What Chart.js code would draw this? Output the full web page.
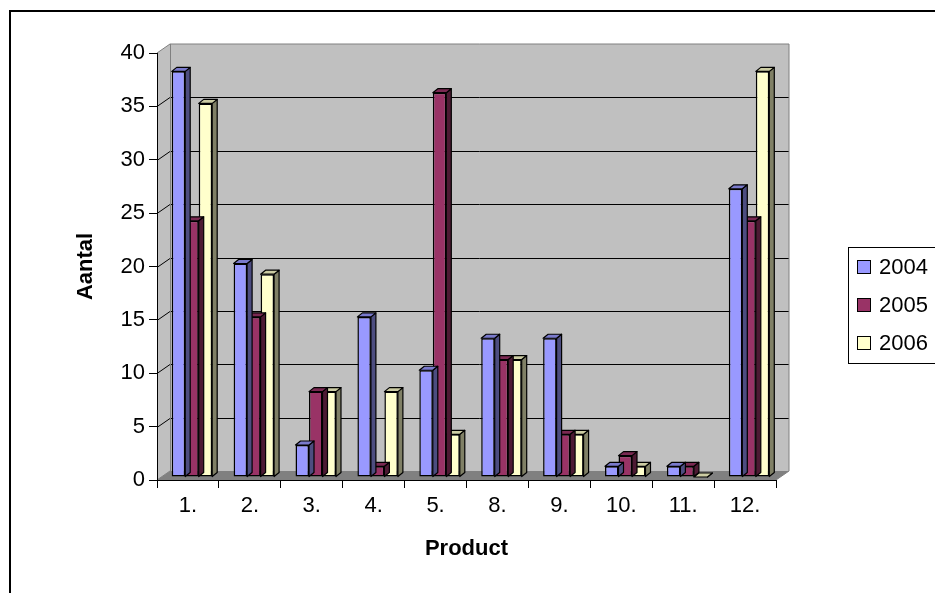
<!DOCTYPE html>
<html>
<head>
<meta charset="utf-8">
<script src="https://cdn.jsdelivr.net/npm/chart.js@4.4.1/dist/chart.umd.min.js"></script>
<style>
  html, body { margin: 0; padding: 0; background: #fff; overflow: hidden; }
  canvas { display: block; }
</style>
</head>
<body>
<canvas id="chart" width="935" height="593" style="width:935px;height:593px"></canvas>
<script>
// Products per year, old Excel-style 3D column chart
const products = ['1.', '2.', '3.', '4.', '5.', '8.', '9.', '10.', '11.', '12.'];
const years = ['2004', '2005', '2006'];
const v2004 = [38, 20, 3, 15, 10, 13, 13, 1, 1, 27];
const v2005 = [24, 15, 8, 1, 36, 11, 4, 2, 1, 24];
const v2006 = [35, 19, 8, 8, 4, 11, 4, 1, 0, 38];
const yTicks = [0, 5, 10, 15, 20, 25, 30, 35, 40];

const FONT = 'Liberation Sans, Arial, sans-serif';
const front = ['#9999FF', '#993366', '#FFFFCC'];
const side  = ['#4D4D80', '#4D1A33', '#808066'];
const top_  = ['#7A7ACC', '#7A2952', '#CCCCA3'];

// 3D depth of the box (wall) and of each bar
const WALL_DX = 13, WALL_DY = -9;
const BAR_DX = 5, BAR_DY = -4;
const SHIFT_X = 4, SHIFT_Y = -3;

const box3d = {
    id: 'box3d',
    beforeDraw: function (chart) {
        const ctx = chart.ctx, a = chart.chartArea, y = chart.scales.y;
        ctx.save();
        ctx.fillStyle = '#fff';
        ctx.fillRect(0, 0, chart.width, chart.height);
        // outer frame
        ctx.strokeStyle = '#000';
        ctx.lineWidth = 2;
        ctx.strokeRect(10, 11, chart.width + 20, chart.height + 20);

        const L = a.left, R = a.right, T = a.top, B = a.bottom;
        // back wall
        ctx.fillStyle = '#C0C0C0';
        ctx.fillRect(L + WALL_DX, T + WALL_DY, R - L, B - T);
        // left side wall
        ctx.beginPath();
        ctx.moveTo(L, T); ctx.lineTo(L + WALL_DX, T + WALL_DY);
        ctx.lineTo(L + WALL_DX, B + WALL_DY); ctx.lineTo(L, B);
        ctx.closePath();
        ctx.fill();
        // floor
        ctx.fillStyle = '#808080';
        ctx.beginPath();
        ctx.moveTo(L, B); ctx.lineTo(L + WALL_DX, B + WALL_DY);
        ctx.lineTo(R + WALL_DX, B + WALL_DY); ctx.lineTo(R, B);
        ctx.closePath();
        ctx.fill();

        // gridlines on side + back wall
        ctx.lineWidth = 1;
        yTicks.forEach(function (v) {
            if (v === 0 || v === 40) return;
            const py = Math.round(y.getPixelForValue(v)) + 0.5;
            ctx.strokeStyle = '#000';
            ctx.beginPath();
            ctx.moveTo(L, py);
            ctx.lineTo(L + WALL_DX, py + WALL_DY);
            ctx.lineTo(R + WALL_DX, py + WALL_DY);
            ctx.stroke();
        });
        // wall edges
        ctx.strokeStyle = '#808080';
        ctx.beginPath();
        ctx.moveTo(L, T); ctx.lineTo(L + WALL_DX, T + WALL_DY);
        ctx.lineTo(R + WALL_DX, T + WALL_DY);
        ctx.lineTo(R + WALL_DX, B + WALL_DY);
        ctx.lineTo(R, B);
        ctx.moveTo(L + WALL_DX + 0.5, T + WALL_DY);
        ctx.lineTo(L + WALL_DX + 0.5, B + WALL_DY);
        ctx.moveTo(L, B); ctx.lineTo(L + WALL_DX, B + WALL_DY);
        ctx.stroke();
        ctx.restore();
    },
    beforeDatasetsDraw: function (chart) {
        chart.ctx.save();
        chart.ctx.translate(SHIFT_X, SHIFT_Y);
    },
    afterDatasetDraw: function (chart, args) {
        const ctx = chart.ctx, i = args.index;
        const meta = chart.getDatasetMeta(i);
        ctx.save();
        ctx.strokeStyle = '#000';
        ctx.lineWidth = 1.2;
        ctx.lineJoin = 'round';
        meta.data.forEach(function (el) {
            const p = el.getProps(['x', 'y', 'base', 'width'], true);
            const l = p.x - p.width / 2, r = p.x + p.width / 2;
            const t = Math.min(p.y, p.base), b = Math.max(p.y, p.base);
            // side face
            ctx.fillStyle = side[i];
            ctx.beginPath();
            ctx.moveTo(r, t); ctx.lineTo(r + BAR_DX, t + BAR_DY);
            ctx.lineTo(r + BAR_DX, b + BAR_DY); ctx.lineTo(r, b);
            ctx.closePath();
            ctx.fill(); ctx.stroke();
            // top face
            ctx.fillStyle = top_[i];
            ctx.beginPath();
            ctx.moveTo(l, t); ctx.lineTo(l + BAR_DX, t + BAR_DY);
            ctx.lineTo(r + BAR_DX, t + BAR_DY); ctx.lineTo(r, t);
            ctx.closePath();
            ctx.fill(); ctx.stroke();
        });
        ctx.restore();
    },
    afterDatasetsDraw: function (chart) {
        chart.ctx.restore();
    },
    afterDraw: function (chart) {
        // legend box on the right
        const ctx = chart.ctx;
        ctx.save();
        ctx.fillStyle = '#fff';
        ctx.fillRect(848, 247, 100, 116);
        ctx.strokeStyle = '#000';
        ctx.lineWidth = 1;
        ctx.strokeRect(848.5, 247.5, 100, 116);
        ctx.font = '22px ' + FONT;
        ctx.textBaseline = 'middle';
        chart.data.datasets.forEach(function (ds, i) {
            const cy = 267 + i * 38;
            ctx.fillStyle = ds.backgroundColor;
            ctx.fillRect(857.5, cy - 6.5, 13, 13);
            ctx.strokeRect(857.5, cy - 6.5, 13, 13);
            ctx.fillStyle = '#000';
            ctx.fillText(ds.label, 879, cy + 1);
        });
        ctx.restore();
    }
};

const datasets = [v2004, v2005, v2006].map(function (vals, i) {
    return {
        label: years[i],
        data: vals,
        backgroundColor: front[i],
        borderColor: '#000',
        borderWidth: 1.5,
        borderSkipped: false,
        categoryPercentage: 0.654,
        barPercentage: 1,
        clip: false
    };
});

new Chart(document.getElementById('chart'), {
    type: 'bar',
    data: { labels: products, datasets: datasets },
    options: {
        responsive: false,
        devicePixelRatio: 1,
        animation: false,
        layout: { padding: { left: 69, top: 53, right: 159, bottom: 27 } },
        plugins: { legend: { display: false }, tooltip: { enabled: false } },
        scales: {
            x: {
                grid: { offset: true, drawOnChartArea: false, tickLength: 8,
                        tickColor: '#000', tickWidth: 1 },
                border: { color: '#000', width: 1 },
                ticks: { font: { family: FONT, size: 22 }, color: '#000',
                         padding: 5, maxRotation: 0, autoSkip: false },
                title: { display: true, text: 'Product', color: '#000',
                         font: { family: FONT, size: 22, weight: 'bold' } },
                afterFit: function (s) { s.height = 86; }
            },
            y: {
                min: 0, max: 40,
                afterBuildTicks: function (s) {
                    s.ticks = yTicks.map(function (v) { return { value: v }; });
                },
                grid: { drawOnChartArea: false, tickLength: 8,
                        tickColor: '#000', tickWidth: 1 },
                border: { color: '#000', width: 1 },
                ticks: { font: { family: FONT, size: 22 }, color: '#000', padding: 4 },
                title: { display: true, text: 'Aantal', color: '#000',
                         font: { family: FONT, size: 22, weight: 'bold' } },
                afterFit: function (s) { s.width = 88; }
            }
        }
    },
    plugins: [box3d]
});
</script>
</body>
</html>
